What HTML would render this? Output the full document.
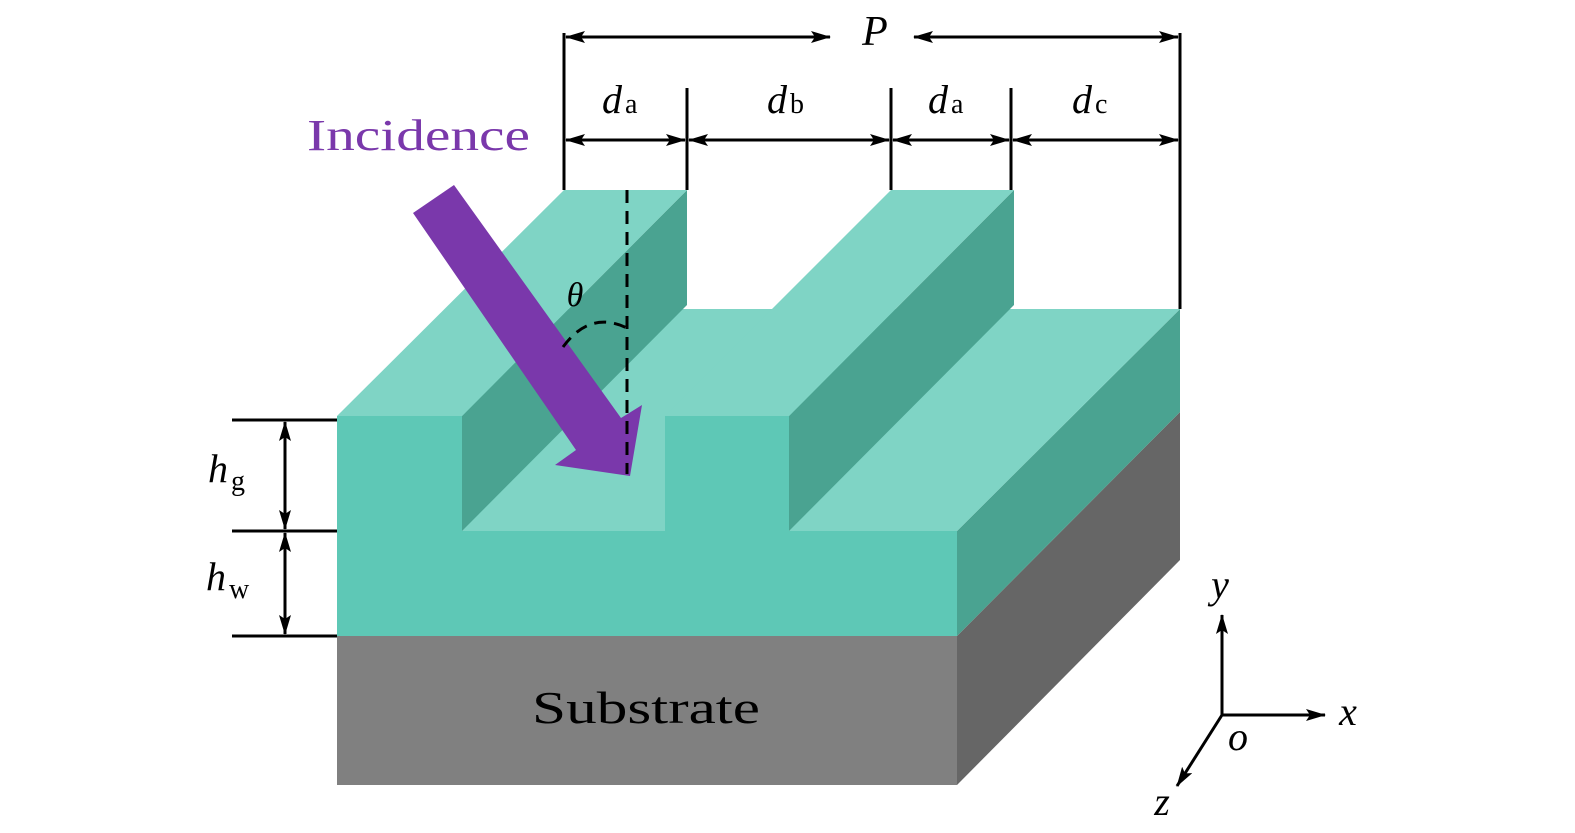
<!DOCTYPE html>
<html><head><meta charset="utf-8"><style>
body{margin:0;background:#fff}
svg{display:block}
text{font-family:"Liberation Serif",serif}
.i{font-style:italic}
</style></head><body>
<svg width="1575" height="833" viewBox="0 0 1575 833" xmlns="http://www.w3.org/2000/svg">
<defs>
<marker id="ah" markerWidth="20" markerHeight="12" refX="19" refY="6" orient="auto-start-reverse" markerUnits="userSpaceOnUse"><path d="M0,0 L20,6 L0,12 L4,6 Z" fill="#000"/></marker>
</defs>
<polygon points="957,636 1180,412 1180,560 957,785" fill="#666"/>
<rect x="337" y="636" width="620" height="149" fill="#808080"/>
<polygon points="957,531 1180,309 1180,412 957,636" fill="#4aa391"/>
<polygon points="337,531 957,531 1180,309 560,309" fill="#7fd4c5"/>
<rect x="337" y="531" width="620" height="105" fill="#5ec8b6"/>
<polygon points="789,416 1014,190 1014,305 789,531" fill="#4aa391"/>
<polygon points="665,416 789,416 1014,190 891,190" fill="#7fd4c5"/>
<rect x="665" y="416" width="124" height="115" fill="#5ec8b6"/>
<polygon points="462,416 687,190 687,305 462,531" fill="#4aa391"/>
<polygon points="337,416 462,416 687,190 564,190" fill="#7fd4c5"/>
<rect x="337" y="416" width="125" height="115" fill="#5ec8b6"/>
<polygon points="413,213 454,185 621,418 642,405 630,476 555,465 576,450" fill="#7a38ab"/>
<line x1="627" y1="190" x2="627" y2="474" stroke="#000" stroke-width="3" stroke-dasharray="13,8"/>
<path d="M563,347 Q590,310 627,328" fill="none" stroke="#000" stroke-width="3" stroke-dasharray="12,8"/>
<text x="575" y="306" class="i" font-size="34" text-anchor="middle">θ</text>
<text x="307" y="150" font-size="44" fill="#7a38ab" textLength="223" lengthAdjust="spacingAndGlyphs">Incidence</text>
<g stroke="#000" stroke-width="3" fill="none">
<line x1="564" y1="33" x2="564" y2="190"/>
<line x1="687" y1="88" x2="687" y2="190"/>
<line x1="891" y1="88" x2="891" y2="190"/>
<line x1="1011" y1="88" x2="1011" y2="190"/>
<line x1="1180" y1="33" x2="1180" y2="309"/>
<line x1="566" y1="37" x2="830" y2="37" marker-start="url(#ah)" marker-end="url(#ah)"/>
<line x1="914" y1="37" x2="1178" y2="37" marker-start="url(#ah)" marker-end="url(#ah)"/>
<line x1="566" y1="140" x2="685" y2="140" marker-start="url(#ah)" marker-end="url(#ah)"/>
<line x1="689" y1="140" x2="889" y2="140" marker-start="url(#ah)" marker-end="url(#ah)"/>
<line x1="893" y1="140" x2="1009" y2="140" marker-start="url(#ah)" marker-end="url(#ah)"/>
<line x1="1013" y1="140" x2="1178" y2="140" marker-start="url(#ah)" marker-end="url(#ah)"/>
<line x1="232" y1="420" x2="337" y2="420"/>
<line x1="232" y1="531" x2="337" y2="531"/>
<line x1="232" y1="636" x2="337" y2="636"/>
<line x1="285" y1="422" x2="285" y2="529" marker-start="url(#ah)" marker-end="url(#ah)"/>
<line x1="285" y1="533" x2="285" y2="634" marker-start="url(#ah)" marker-end="url(#ah)"/>
<line x1="1222" y1="715" x2="1222" y2="615" marker-end="url(#ah)"/>
<line x1="1222" y1="715" x2="1325" y2="715" marker-end="url(#ah)"/>
<line x1="1222" y1="715" x2="1177" y2="786" marker-end="url(#ah)"/>
</g>
<text x="875" y="45" class="i" font-size="42" text-anchor="middle">P</text>
<g font-size="40">
<text x="602" y="113" class="i">d<tspan font-style="normal" font-size="28" dx="3">a</tspan></text>
<text x="767" y="113" class="i">d<tspan font-style="normal" font-size="28" dx="3">b</tspan></text>
<text x="928" y="113" class="i">d<tspan font-style="normal" font-size="28" dx="3">a</tspan></text>
<text x="1072" y="113" class="i">d<tspan font-style="normal" font-size="28" dx="3">c</tspan></text>
<text x="208" y="482" class="i">h<tspan font-style="normal" font-size="28" dx="3" dy="8">g</tspan></text>
<text x="206" y="590" class="i">h<tspan font-style="normal" font-size="28" dx="3" dy="8">w</tspan></text>
<text x="1220" y="598" class="i" text-anchor="middle">y</text>
<text x="1348" y="725" class="i" text-anchor="middle">x</text>
<text x="1238" y="750" class="i" text-anchor="middle">o</text>
<text x="1162" y="815" class="i" text-anchor="middle">z</text>
</g>
<text x="532" y="723" font-size="46" textLength="228" lengthAdjust="spacingAndGlyphs">Substrate</text>
</svg>
</body></html>
